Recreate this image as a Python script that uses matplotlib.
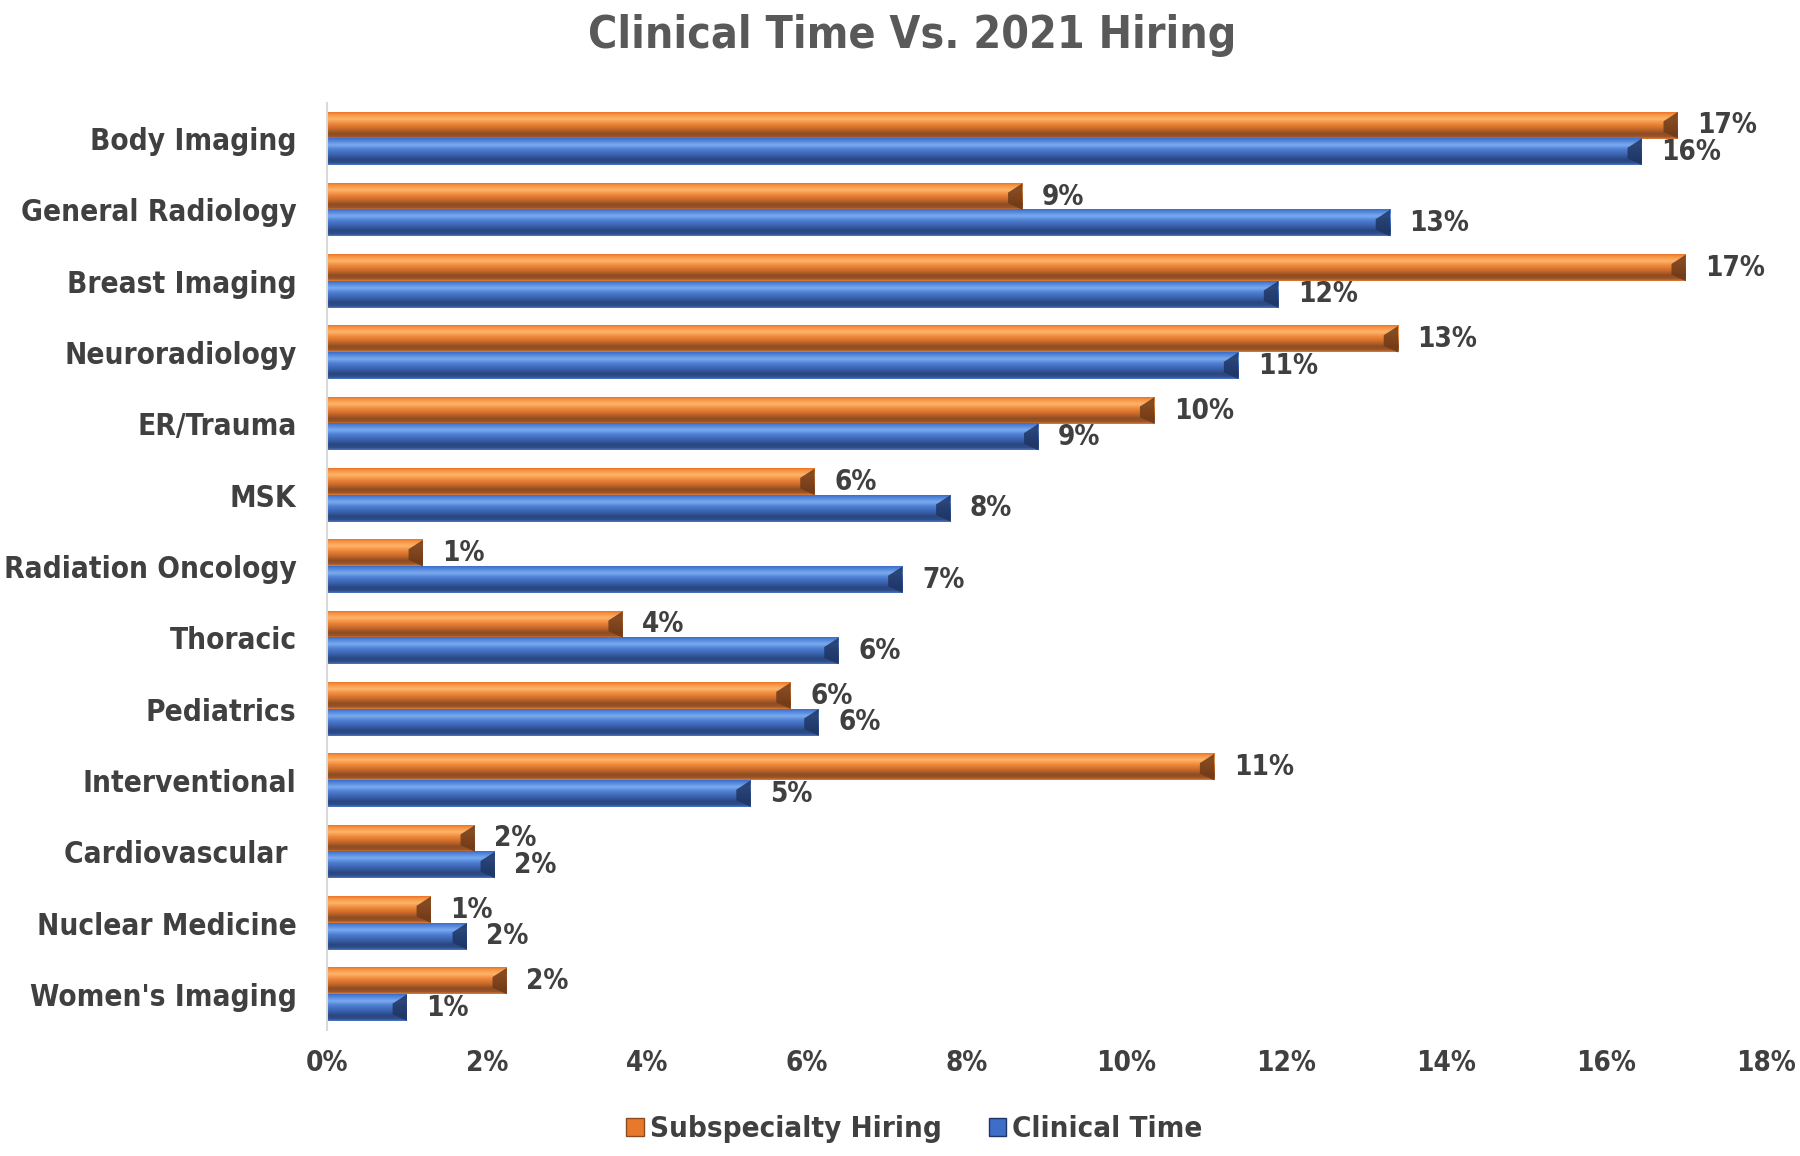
import numpy as np
import matplotlib
matplotlib.use("Agg")
import matplotlib.pyplot as plt
from matplotlib import font_manager
from matplotlib.colors import LinearSegmentedColormap
from matplotlib.patches import Polygon, Rectangle

CATEGORIES = ["Body Imaging", "General Radiology", "Breast Imaging", "Neuroradiology",
              "ER/Trauma", "MSK", "Radiation Oncology", "Thoracic", "Pediatrics",
              "Interventional", "Cardiovascular ", "Nuclear Medicine", "Women's Imaging"]
HIRING   = [16.9, 8.7, 17.0, 13.4, 10.35, 6.1, 1.2, 3.7, 5.8, 11.1, 1.85, 1.3, 2.25]
CLINICAL = [16.45, 13.3, 11.9, 11.4, 8.9, 7.8, 7.2, 6.4, 6.15, 5.3, 2.1, 1.75, 1.0]
X_TICKS  = [0, 2, 4, 6, 8, 10, 12, 14, 16, 18]
SERIES   = ["Subspecialty Hiring", "Clinical Time"]

TEXT_COL = "#404040"

ORANGE_STOPS = [(0.0, "#E9762B"), (0.08, "#F7923F"), (0.25, "#FDB56C"), (0.42, "#F08A3C"),
                (0.62, "#C9692A"), (0.80, "#8C4C22"), (0.92, "#9A5528"), (1.0, "#E07A33")]
BLUE_STOPS   = [(0.0, "#3E6EC8"), (0.08, "#4F82DA"), (0.25, "#7BABEF"), (0.42, "#4D7ED3"),
                (0.62, "#3A63AE"), (0.80, "#29467F"), (0.92, "#2E4E8A"), (1.0, "#4A76C4")]


def pick_font():
    # narrow face if the box has one, else condensed DejaVu
    for fam in ("Liberation Sans Narrow",):
        try:
            font_manager.findfont(font_manager.FontProperties(family=fam, weight="bold"),
                                  fallback_to_default=False)
            return dict(family=fam, weight="bold"), 24
        except ValueError:
            pass
    return dict(family="DejaVu Sans", stretch="condensed", weight="bold"), 20


def draw_bar(ax, value, yc, h, cmap, end_col):
    grad = np.linspace(0, 1, 64).reshape(-1, 1)
    ax.imshow(grad, cmap=cmap, aspect="auto", origin="upper",
              extent=(0, value, yc + h / 2, yc - h / 2), interpolation="bilinear", zorder=2)
    d = min(0.18, value * 0.3)
    ax.add_patch(Polygon([(value - d, yc - h * 0.15), (value, yc - h / 2),
                          (value, yc + h / 2), (value - d, yc + h * 0.25)],
                         closed=True, facecolor=end_col, edgecolor="none", zorder=3, alpha=0.85))


def main():
    font, fs = pick_font()
    plt.rcParams["font.family"] = ["DejaVu Sans"]
    fig = plt.figure(figsize=(18, 11.56), dpi=100)
    ax = fig.add_axes([0.1817, 0.109, 0.981 - 0.1817, 0.911 - 0.109])

    orange = LinearSegmentedColormap.from_list("orange", ORANGE_STOPS)
    blue = LinearSegmentedColormap.from_list("blue", BLUE_STOPS)

    n = len(CATEGORIES)
    y = np.arange(n)
    h = 0.372

    for i in range(n):
        draw_bar(ax, HIRING[i], y[i] - h / 2, h, orange, "#6E3A18")
        draw_bar(ax, CLINICAL[i], y[i] + h / 2, h, blue, "#1F3563")
        for val, yc in ((HIRING[i], y[i] - h / 2), (CLINICAL[i], y[i] + h / 2)):
            ax.annotate(f"{val:.0f}%", (val, yc), xytext=(14, 0), textcoords="offset points",
                        ha="left", va="center", fontsize=fs, color=TEXT_COL, **font)

    ax.set_xlim(0, 18)
    ax.set_ylim(n - 0.5, -0.5)
    ax.set_xticks(X_TICKS)
    ax.set_xticklabels([f"{t}%" for t in X_TICKS], fontsize=fs, color=TEXT_COL, **font)
    ax.set_yticks(y)
    ax.set_yticklabels(CATEGORIES, fontsize=fs + 1.3, color=TEXT_COL, **font)
    ax.tick_params(axis="both", length=0)
    ax.tick_params(axis="x", pad=14)
    ax.tick_params(axis="y", pad=22)

    for side in ("top", "right", "bottom"):
        ax.spines[side].set_visible(False)
    ax.spines["left"].set_color("#D9D9D9")
    ax.spines["left"].set_linewidth(1.5)
    ax.spines["left"].set_zorder(5)

    fig.text(0.507, 0.969, "Clinical Time Vs. 2021 Hiring", ha="center", va="center",
             fontsize=fs * 1.6, color="#595959", **font)

    handles = [Rectangle((0, 0), 1, 1, facecolor="#E8792B", edgecolor="#8C4C22"),
               Rectangle((0, 0), 1, 1, facecolor="#3E6EC8", edgecolor="#1F3563")]
    fig.legend(handles, SERIES, loc="center", bbox_to_anchor=(0.508, 0.023), ncol=2,
               frameon=False, handlelength=0.6, handleheight=0.6, handletextpad=0.2,
               columnspacing=1.6, prop=dict(size=fs + 1.2, **font), labelcolor=TEXT_COL)

    fig.savefig("out.png", dpi=100)
    plt.close(fig)


if __name__ == "__main__":
    main()
